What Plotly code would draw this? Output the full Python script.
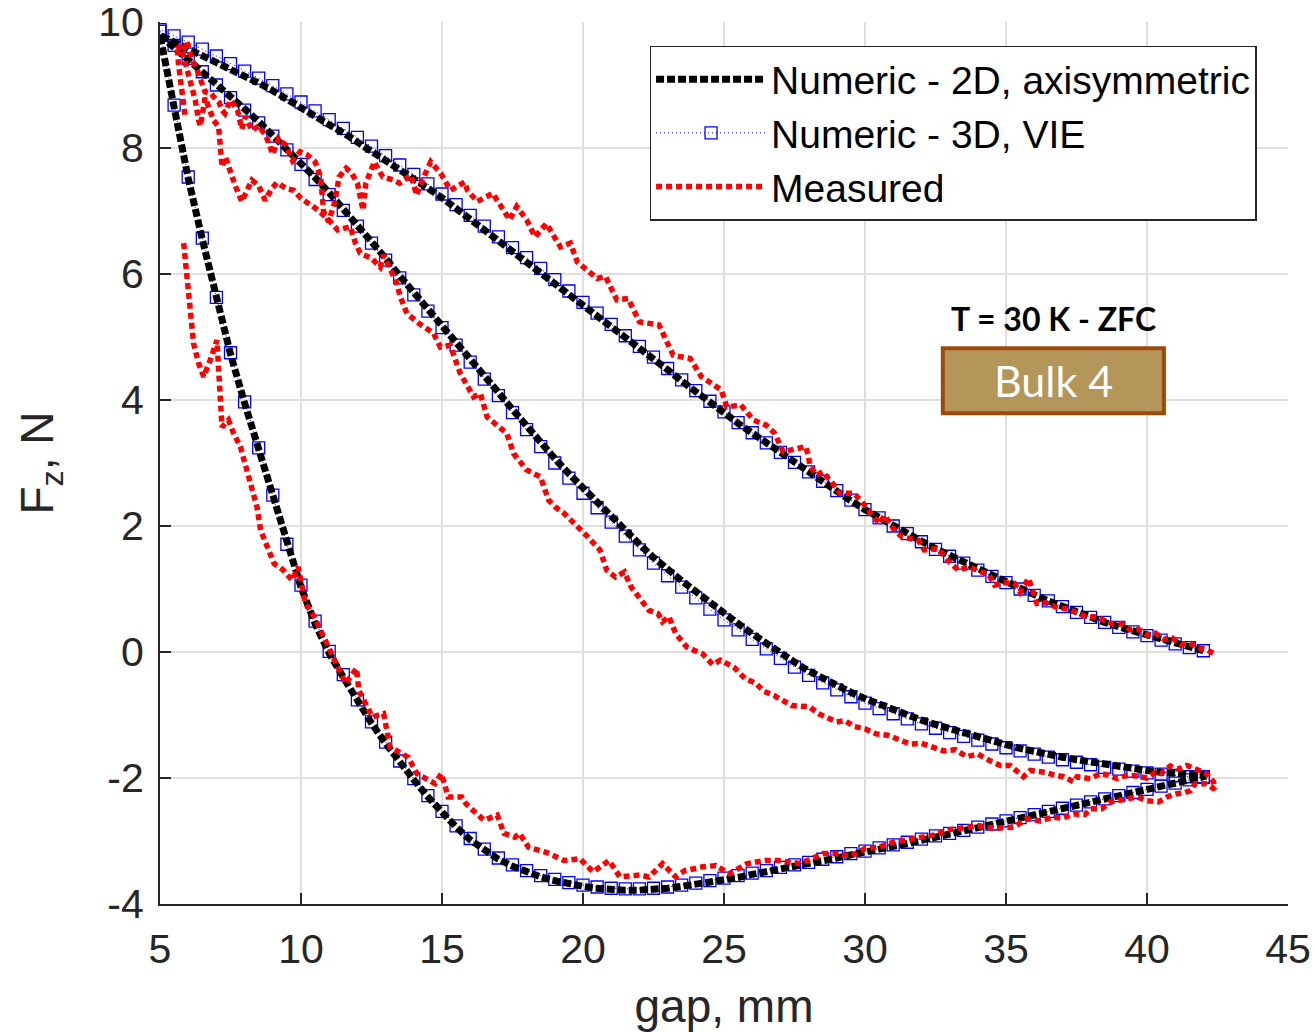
import plotly.graph_objects as go

# ---------------- data ----------------
gap_grid = [5.0, 5.5, 6.0, 6.5, 7.0, 7.5, 8.0, 8.5, 9.0, 9.5,
            10.0, 10.5, 11.0, 11.5, 12.0, 12.5, 13.0, 13.5, 14.0, 14.5,
            15.0, 15.5, 16.0, 16.5, 17.0, 17.5, 18.0, 18.5, 19.0, 19.5,
            20.0, 20.5, 21.0, 21.5, 22.0, 22.5, 23.0, 23.5, 24.0, 24.5,
            25.0, 25.5, 26.0, 26.5, 27.0, 27.5, 28.0, 28.5, 29.0, 29.5,
            30.0, 30.5, 31.0, 31.5, 32.0, 32.5, 33.0, 33.5, 34.0, 34.5,
            35.0, 35.5, 36.0, 36.5, 37.0, 37.5, 38.0, 38.5, 39.0, 39.5,
            40.0, 40.5, 41.0, 41.5, 42.0]

# Numeric 2D axisymmetric (values at gap_grid)
num2d_approach1 = [9.79, 9.69, 9.59, 9.49, 9.38, 9.26, 9.14, 9.03, 8.91, 8.78,
                   8.65, 8.51, 8.37, 8.24, 8.10, 7.96, 7.81, 7.66, 7.51, 7.36,
                   7.21, 7.04, 6.87, 6.70, 6.53, 6.37, 6.21, 6.04, 5.86, 5.69,
                   5.51, 5.34, 5.17, 4.99, 4.82, 4.65, 4.48, 4.30, 4.13, 3.96,
                   3.80, 3.63, 3.47, 3.31, 3.16, 3.00, 2.85, 2.70, 2.55, 2.40,
                   2.26, 2.13, 2.00, 1.88, 1.76, 1.64, 1.52, 1.41, 1.31, 1.21,
                   1.11, 1.01, 0.91, 0.81, 0.72, 0.63, 0.55, 0.47, 0.40, 0.33,
                   0.27, 0.20, 0.14, 0.08, 0.02]
num2d_retreat = [9.79, 8.65, 7.52, 6.55, 5.62, 4.73, 3.95, 3.22, 2.46, 1.68,
                 1.03, 0.45, -0.02, -0.40, -0.78, -1.13, -1.45, -1.75, -2.03, -2.30,
                 -2.56, -2.78, -2.98, -3.15, -3.29, -3.40, -3.49, -3.57, -3.63, -3.68,
                 -3.72, -3.75, -3.77, -3.78, -3.78, -3.77, -3.75, -3.72, -3.69, -3.66,
                 -3.62, -3.58, -3.53, -3.49, -3.44, -3.40, -3.36, -3.31, -3.27, -3.22,
                 -3.18, -3.13, -3.08, -3.04, -2.99, -2.94, -2.90, -2.85, -2.80, -2.75,
                 -2.70, -2.65, -2.59, -2.54, -2.48, -2.43, -2.38, -2.33, -2.28, -2.23,
                 -2.18, -2.13, -2.08, -2.03, -1.98]
num2d_approach2 = [9.79, 9.60, 9.40, 9.20, 9.00, 8.81, 8.62, 8.42, 8.21, 7.99,
                   7.76, 7.53, 7.29, 7.04, 6.79, 6.52, 6.25, 5.97, 5.70, 5.45,
                   5.19, 4.91, 4.64, 4.38, 4.12, 3.85, 3.58, 3.32, 3.07, 2.83,
                   2.60, 2.37, 2.15, 1.93, 1.71, 1.50, 1.30, 1.13, 0.96, 0.78,
                   0.61, 0.45, 0.29, 0.13, -0.02, -0.16, -0.30, -0.42, -0.53, -0.64,
                   -0.74, -0.83, -0.92, -1.00, -1.08, -1.15, -1.22, -1.29, -1.35, -1.41,
                   -1.47, -1.53, -1.58, -1.63, -1.67, -1.71, -1.75, -1.79, -1.82, -1.85,
                   -1.88, -1.91, -1.93, -1.95, -1.96]

# Numeric 3D VIE (values at gap_grid)
vie_approach1 = [9.88, 9.78, 9.68, 9.57, 9.46, 9.34, 9.22, 9.11, 8.99, 8.86,
                 8.73, 8.59, 8.45, 8.31, 8.17, 8.03, 7.88, 7.73, 7.58, 7.43,
                 7.27, 7.10, 6.93, 6.76, 6.59, 6.42, 6.26, 6.09, 5.91, 5.73,
                 5.55, 5.38, 5.20, 5.02, 4.85, 4.68, 4.50, 4.32, 4.15, 3.98,
                 3.81, 3.64, 3.48, 3.32, 3.17, 3.01, 2.86, 2.71, 2.56, 2.41,
                 2.26, 2.13, 2.00, 1.88, 1.75, 1.63, 1.52, 1.41, 1.30, 1.20,
                 1.10, 1.00, 0.90, 0.81, 0.72, 0.63, 0.55, 0.47, 0.39, 0.32,
                 0.26, 0.19, 0.13, 0.07, 0.02]
vie_retreat = [9.85, 8.68, 7.54, 6.57, 5.63, 4.75, 3.97, 3.24, 2.49, 1.71,
               1.06, 0.49, 0.01, -0.36, -0.76, -1.11, -1.43, -1.73, -2.01, -2.28,
               -2.53, -2.76, -2.96, -3.13, -3.27, -3.38, -3.47, -3.55, -3.61, -3.66,
               -3.70, -3.73, -3.75, -3.76, -3.76, -3.75, -3.73, -3.70, -3.67, -3.63,
               -3.59, -3.55, -3.51, -3.47, -3.42, -3.38, -3.34, -3.29, -3.25, -3.20,
               -3.16, -3.11, -3.06, -3.02, -2.97, -2.92, -2.88, -2.83, -2.78, -2.73,
               -2.68, -2.63, -2.58, -2.53, -2.48, -2.43, -2.38, -2.33, -2.28, -2.23,
               -2.18, -2.13, -2.08, -2.03, -1.98]
vie_approach2 = [9.85, 9.63, 9.42, 9.21, 9.00, 8.80, 8.60, 8.40, 8.19, 7.97,
                 7.74, 7.50, 7.26, 7.01, 6.76, 6.49, 6.22, 5.94, 5.67, 5.41,
                 5.15, 4.87, 4.60, 4.33, 4.07, 3.80, 3.53, 3.26, 3.00, 2.76,
                 2.52, 2.29, 2.06, 1.84, 1.62, 1.41, 1.21, 1.03, 0.86, 0.68,
                 0.51, 0.35, 0.20, 0.05, -0.10, -0.24, -0.37, -0.49, -0.60, -0.71,
                 -0.81, -0.90, -0.98, -1.06, -1.14, -1.21, -1.28, -1.34, -1.40, -1.46,
                 -1.52, -1.57, -1.62, -1.67, -1.71, -1.75, -1.79, -1.83, -1.86, -1.89,
                 -1.92, -1.94, -1.96, -1.98, -1.99]

# Measured: first approach (far -> near)
meas_approach1_gap = [42.35, 42.1, 41.8, 41.5, 41.2, 40.9, 40.6, 40.3, 40.0, 39.7,
                      39.4, 39.1, 38.8, 38.5, 38.2, 37.9, 37.5, 37.2, 36.8, 36.4,
                      36.1, 35.8, 35.5, 35.3, 34.9, 34.6, 34.4, 34.0, 33.7, 33.3,
                      33.0, 32.6, 32.1, 31.9, 31.3, 31.0, 30.7, 30.5, 30.1, 29.9,
                      29.6, 29.1, 28.9, 28.5, 28.3, 28.05, 28.0, 27.9, 27.1, 26.8,
                      26.5, 26.05, 25.6, 25.1, 24.9, 24.2, 23.8, 23.2, 23.0, 22.7,
                      22.0, 21.6, 21.2, 20.8, 20.5, 19.8, 19.55, 19.2, 18.7, 18.3,
                      18.0, 17.65, 17.4, 17.2, 16.8, 16.25, 15.9, 15.8, 15.3, 14.95,
                      14.6, 14.3, 14.1, 13.9, 13.5, 13.3, 12.9, 12.6, 12.3, 12.2,
                      12.0, 11.8, 11.6, 11.35, 11.2, 10.98, 10.8, 10.7, 10.5, 10.2,
                      9.97, 9.7, 9.45, 9.2, 9.0, 8.75, 8.5, 8.26, 8.03, 7.9,
                      7.75, 7.5, 7.3, 7.2, 7.1, 7.0, 6.8, 6.6, 6.5, 6.3,
                      6.13, 6.05, 5.96, 5.8, 5.6, 5.66, 5.72, 5.78, 5.84, 5.9]
meas_approach1_fz = [-0.02, 0.04, 0.07, 0.15, 0.12, 0.22, 0.20, 0.30, 0.27, 0.36,
                     0.35, 0.45, 0.44, 0.50, 0.56, 0.55, 0.63, 0.68, 0.71, 0.78,
                     0.77, 1.17, 0.95, 1.09, 1.10, 1.06, 1.22, 1.30, 1.35, 1.30,
                     1.43, 1.64, 1.62, 1.77, 1.83, 1.96, 2.17, 2.04, 2.28, 2.38,
                     2.52, 2.52, 2.65, 2.86, 2.81, 2.94, 3.10, 3.26, 3.18, 3.47,
                     3.60, 3.68, 3.92, 3.89, 4.16, 4.37, 4.66, 4.71, 4.90, 5.19,
                     5.24, 5.61, 5.59, 5.96, 5.93, 6.19, 6.49, 6.43, 6.80, 6.59,
                     6.86, 7.07, 6.86, 7.01, 7.28, 7.15, 7.33, 7.46, 7.33, 7.60,
                     7.78, 7.49, 7.25, 7.57, 7.44, 7.49, 7.54, 7.78, 7.44, 7.01,
                     7.44, 7.60, 7.68, 7.54, 7.15, 6.83, 6.99, 7.54, 7.78, 7.90,
                     7.94, 7.80, 8.05, 8.15, 7.90, 8.20, 8.35, 8.28, 8.50, 8.30,
                     8.60, 8.76, 8.55, 8.60, 8.72, 8.76, 8.87, 8.89, 9.03, 9.26,
                     9.40, 9.56, 9.69, 9.53, 9.63, 9.32, 9.13, 8.97, 8.63, 8.47]

# Measured: retreat (near -> far)
meas_retreat_gap = [5.84, 5.96, 6.07, 6.19, 6.37, 6.55, 6.78, 7.02, 7.08, 7.14,
                    7.2, 7.43, 7.61, 7.85, 8.09, 8.26, 8.44, 8.57, 8.8, 9.05,
                    9.37, 9.68, 9.9, 10.16, 10.47, 10.8, 11.1, 11.58, 11.97, 12.05,
                    12.53, 12.93, 13.16, 13.8, 14.11, 14.75, 14.98, 15.22, 15.7, 15.85,
                    16.09, 16.49, 16.96, 17.2, 17.59, 17.75, 18.07, 18.7, 19.33, 19.89,
                    20.36, 20.92, 21.31, 22.02, 22.34, 22.82, 23.29, 23.61, 24.24, 24.71,
                    25.19, 25.82, 26.45, 26.93, 27.72, 28.51, 28.99, 29.5, 30.0, 30.5,
                    31.0, 31.5, 32.0, 32.5, 33.0, 33.5, 34.0, 34.6, 35.27, 35.74,
                    36.2, 36.69, 37.0, 37.4, 37.8, 37.99, 38.4, 38.7, 39.35, 39.65,
                    40.0, 40.41, 40.71, 41.06, 41.3, 41.54, 41.71, 42.07, 42.4, 42.36]
meas_retreat_fz = [6.49, 5.96, 5.48, 4.90, 4.58, 4.37, 4.63, 4.95, 4.47, 3.94,
                   3.57, 3.68, 3.47, 3.26, 2.89, 2.57, 2.30, 1.93, 1.70, 1.40,
                   1.30, 1.14, 1.35, 0.77, 0.56, 0.25, -0.08, -0.50, -0.26, -0.61,
                   -1.03, -0.98, -1.51, -1.67, -1.93, -2.09, -1.93, -2.30, -2.30, -2.41,
                   -2.51, -2.67, -2.59, -2.88, -2.94, -2.88, -3.10, -3.18, -3.31, -3.28,
                   -3.49, -3.31, -3.57, -3.54, -3.57, -3.36, -3.57, -3.47, -3.41, -3.39,
                   -3.52, -3.36, -3.31, -3.31, -3.36, -3.20, -3.20, -3.24, -3.12, -3.10,
                   -3.02, -2.98, -2.92, -2.90, -2.82, -2.80, -2.76, -2.80, -2.78, -2.65,
                   -2.68, -2.62, -2.64, -2.57, -2.58, -2.49, -2.49, -2.38, -2.33, -2.30,
                   -2.36, -2.38, -2.30, -2.25, -2.24, -2.20, -2.09, -2.09, -2.18, -2.06]

# Measured: second approach (far -> near)
meas_approach2_gap = [42.1, 41.7, 41.42, 41.1, 40.83, 40.5, 40.3, 40.0, 39.52, 39.2,
                      38.94, 38.6, 38.35, 37.99, 37.52, 37.4, 37.04, 36.7, 36.39, 35.86,
                      35.62, 35.15, 34.8, 34.4, 34.0, 33.6, 33.2, 32.8, 32.4, 32.0,
                      31.6, 31.2, 30.8, 30.4, 30.0, 29.6, 29.3, 28.99, 28.35, 28.04,
                      27.4, 26.77, 26.4, 26.14, 25.74, 25.35, 24.87, 24.6, 24.24, 23.92,
                      23.68, 23.29, 23.05, 22.82, 22.66, 22.34, 21.86, 21.71, 21.47, 21.15,
                      20.84, 20.6, 20.12, 19.57, 19.33, 19.02, 18.78, 18.49, 18.0, 17.54,
                      17.3, 16.6, 16.36, 16.12, 15.65, 15.29, 14.94, 14.7, 14.23, 13.76,
                      13.52, 13.4, 13.1, 12.93, 12.81, 12.5, 12.1, 11.93, 11.75, 11.3,
                      10.98, 10.5, 10.0, 9.74, 9.5, 9.15, 8.97, 8.73, 8.5, 8.26,
                      8.09, 7.9, 7.67, 7.5, 7.32, 7.2, 7.14, 7.08, 6.9, 6.6,
                      6.43, 6.37, 6.25, 6.13, 5.9, 5.78, 5.66]
meas_approach2_fz = [-1.93, -1.85, -1.80, -1.86, -1.81, -1.93, -1.91, -2.00, -1.96, -1.97,
                     -2.01, -1.95, -1.93, -2.01, -1.98, -2.06, -1.98, -1.95, -1.91, -1.88,
                     -1.98, -1.80, -1.80, -1.72, -1.62, -1.66, -1.55, -1.57, -1.50, -1.45,
                     -1.46, -1.38, -1.32, -1.30, -1.22, -1.18, -1.09, -1.11, -0.98, -0.87,
                     -0.85, -0.69, -0.62, -0.50, -0.42, -0.24, -0.13, -0.20, -0.03, 0.03,
                     0.08, 0.29, 0.56, 0.48, 0.61, 0.66, 0.93, 1.03, 1.27, 1.19,
                     1.30, 1.62, 1.85, 2.09, 2.20, 2.30, 2.41, 2.78, 2.89, 3.15,
                     3.47, 3.73, 4.10, 4.05, 4.42, 4.87, 4.84, 5.06, 5.20, 5.37,
                     5.64, 5.85, 6.11, 6.30, 6.11, 6.25, 6.33, 6.49, 6.75, 6.70,
                     6.86, 7.05, 7.20, 7.33, 7.35, 7.45, 7.36, 7.17, 7.40, 7.49,
                     7.33, 7.15, 7.40, 7.60, 7.86, 7.70, 8.18, 8.34, 8.44, 8.80,
                     8.35, 8.44, 8.76, 8.95, 9.30, 9.55, 9.62]

series_names = ["Numeric - 2D, axisymmetric", "Numeric - 3D, VIE", "Measured"]
x_tick_vals = [5, 10, 15, 20, 25, 30, 35, 40, 45]
x_tick_text = ["5", "10", "15", "20", "25", "30", "35", "40", "45"]
y_tick_vals = [-4, -2, 0, 2, 4, 6, 8, 10]
y_tick_text = ["-4", "-2", "0", "2", "4", "6", "8", "10"]

# ---------------- build paths ----------------
def cycle(gaps, approach1, retreat, approach2):
    xs = gaps[::-1] + gaps + gaps[::-1]
    ys = approach1[::-1] + retreat + approach2[::-1]
    return xs, ys

x2d, y2d = cycle(gap_grid, num2d_approach1, num2d_retreat, num2d_approach2)
xvie, yvie = cycle(gap_grid, vie_approach1, vie_retreat, vie_approach2)
xm = meas_approach1_gap + [None] + meas_retreat_gap + meas_approach2_gap
ym = meas_approach1_fz + [None] + meas_retreat_fz + meas_approach2_fz

FONT = "Liberation Sans, Arial, Helvetica, sans-serif"
AX = "#262626"
CAL = "Lato, Open Sans, sans-serif"

fig = go.Figure()
fig.add_trace(go.Scatter(
    x=xvie, y=yvie, mode="lines+markers", name=series_names[1], legendrank=2,
    line=dict(color="#0000FF", width=1, dash="1px,3px"),
    marker=dict(symbol="square-open", size=12, color="#0000FF",
                line=dict(color="#0000FF", width=1.3)),
))
fig.add_trace(go.Scatter(
    x=x2d, y=y2d, mode="lines", name=series_names[0], legendrank=1,
    line=dict(color="#000000", width=7, dash="8px,3px"),
))
fig.add_trace(go.Scatter(
    x=xm, y=ym, mode="lines", name=series_names[2], legendrank=3,
    line=dict(color="#FF0000", width=5.5, dash="6px,4px"),
    connectgaps=False,
))

fig.add_shape(type="rect", xref="paper", yref="paper",
              x0=0.694, x1=0.890, y0=0.5564, y1=0.630,
              fillcolor="#B4965A", line=dict(color="#9C4A0C", width=4), layer="above")
fig.add_annotation(text="Bulk 4", xref="paper", yref="paper", x=0.792, y=0.5932,
                   xanchor="center", yanchor="middle",
                   showarrow=False, font=dict(family=CAL, size=43, color="white"))
fig.add_annotation(text="<b>T = 30 K - ZFC</b>", xref="paper", yref="paper", x=0.7917, y=0.664,
                   xanchor="center", yanchor="middle",
                   showarrow=False, font=dict(family=CAL, size=32, color="black"))

fig.update_layout(
    width=1315, height=1032,
    margin=dict(l=160, r=27, t=22, b=128, autoexpand=False),
    paper_bgcolor="white", plot_bgcolor="white",
    font=dict(family=FONT, color=AX),
    showlegend=True,
    legend=dict(x=0.434, y=0.973, xanchor="left", yanchor="top",
                bgcolor="white", bordercolor=AX, borderwidth=1.5,
                font=dict(family=FONT, size=39, color="black"),
                itemwidth=110, tracegroupgap=0),
    xaxis=dict(range=[5, 45], tickvals=x_tick_vals, ticktext=x_tick_text,
               showline=True, linecolor=AX, linewidth=2, mirror=False,
               ticks="inside", ticklen=11, tickwidth=2, tickcolor=AX,
               showgrid=True, gridcolor="#DFDFDF", gridwidth=1.5, zeroline=False,
               tickfont=dict(family=FONT, size=41, color=AX), ticklabelstandoff=8,
               ticklabeloverflow="allow",
               title=dict(text="gap, mm", font=dict(family=FONT, size=46, color=AX), standoff=26)),
    yaxis=dict(range=[-4, 10], tickvals=y_tick_vals, ticktext=y_tick_text,
               showline=True, linecolor=AX, linewidth=2, mirror=False,
               ticks="inside", ticklen=11, tickwidth=2, tickcolor=AX,
               showgrid=True, gridcolor="#DFDFDF", gridwidth=1.5, zeroline=False,
               tickfont=dict(family=FONT, size=41, color=AX), ticklabelstandoff=6,
               ticklabeloverflow="allow",
               title=dict(text="F<sub>z</sub>, N", font=dict(family=FONT, size=46, color=AX), standoff=30)),
)

fig.write_html("out.html", config={"displayModeBar": False},
               post_script="document.body.style.margin='0';document.body.style.overflow='hidden';")
